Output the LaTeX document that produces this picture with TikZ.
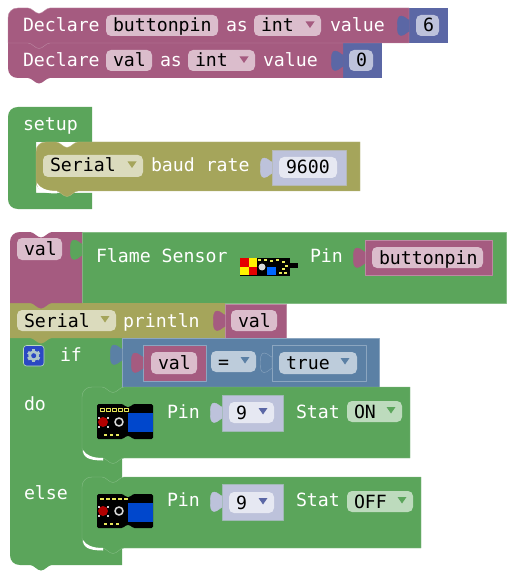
\documentclass[tikz,border=0pt]{standalone}
\usepackage{fontspec}
\setmainfont{DejaVu Sans Mono}
\definecolor{pur}{HTML}{A55B80}
\definecolor{purL}{HTML}{DBBDCC}
\definecolor{purE}{HTML}{BD8AA3}
\definecolor{ind}{HTML}{5B67A5}
\definecolor{indL}{HTML}{BDC2DB}
\definecolor{indF}{HTML}{E6E8F2}
\definecolor{grn}{HTML}{5BA55B}
\definecolor{grnL}{HTML}{BDDBBD}
\definecolor{grnE}{HTML}{85BC85}
\definecolor{oli}{HTML}{A5A55B}
\definecolor{oliL}{HTML}{DBDBBD}
\definecolor{stl}{HTML}{5B80A5}
\definecolor{stlL}{HTML}{BDCCDB}
\definecolor{stlE}{HTML}{8CA6C0}
\definecolor{gearb}{HTML}{2B48C4}
\definecolor{ylw}{HTML}{E8E85A}
\newcommand\ntop[2]{-- ({#1+20},#2) .. controls ({#1+24},#2) and ({#1+27},{#2+5.5}) .. ({#1+31},{#2+5.5}) .. controls ({#1+35},{#2+5.5}) and ({#1+38},#2) .. ({#1+42},#2)}
\newcommand\nbot[2]{-- ({#1+42},#2) .. controls ({#1+38},#2) and ({#1+35},{#2+5.5}) .. ({#1+31},{#2+5.5}) .. controls ({#1+27},{#2+5.5}) and ({#1+24},#2) .. ({#1+20},#2)}
% tab: right edge x, top y, fill, draw
\newcommand\ptab[4]{\path[fill=#3,draw=#4,line width=.4] (#1,{#2+4}) .. controls ({#1-2},{#2+4}) and ({#1-4},{#2}) .. ({#1-8},{#2}) .. controls ({#1-11},{#2}) and ({#1-12},{#2+5}) .. ({#1-11.5},{#2+10}) .. controls ({#1-12},{#2+15}) and ({#1-11},{#2+19.5}) .. ({#1-8},{#2+19.5}) .. controls ({#1-4},{#2+19.5}) and ({#1-2},{#2+15.5}) .. (#1,{#2+15.5}) -- cycle;}
% field: name, x1,y1,x2,y2, fill, text
\newcommand\fld[7]{\fill[#6,rounded corners=5] (#2,#3) rectangle (#4,#5);\node[txt,text=black] (#1) at ({#2+7},{#3+17}) {#7};}
\newcommand\tri[3]{\fill[#3] ({#1-4.5},#2) -- ({#1+4.5},#2) -- (#1,{#2+6.5}) -- cycle;}
\newcommand\lbl[4]{\node[txt,text=white] (#1) at (#2,#3) {#4};}
\newcommand\cres[2]{\fill[white] ({#1+1},{#2-9}) .. controls ({#1+1},{#2-2}) and ({#1+6},{#2+1.5}) .. ({#1+21},{#2+1.5}) -- ({#1+21},{#2-1}) .. controls ({#1+10},{#2-1}) and ({#1+4},{#2-4}) .. ({#1+1},{#2-9}) -- cycle;}
\tikzset{txt/.style={inner sep=0pt,outer sep=0pt,anchor=base west,font=\fontsize{18.2}{20}\selectfont}}
\begin{document}
\begin{tikzpicture}[x=1pt,y=-1pt,line join=round]
\useasboundingbox (0,0) rectangle (527,585);
\fill[white] (0,0) rectangle (527,585);
%% declare 2
\fill[ind] (343,43) rectangle (382,78);
\fill[pur] (8,43) -- (343,43) -- (343,78) \nbot{8}{78} -- (18,78) .. controls (12,78) and (8,74) .. (8,68) -- cycle;
\ptab{343}{51}{ind}{ind}
\fld{f4}{106}{50}{152}{71}{purL}{val}
\fld{f5}{188}{50}{255}{71}{purL}{int}
\tri{244}{56.5}{pur}
\lbl{l4}{23}{67}{Declare}\lbl{l5}{160}{67}{as}\lbl{l6}{263}{67}{value}
\fld{f6}{349}{50}{373}{71}{indL}{0}
%% declare 1
\fill[ind] (409,8) rectangle (448,43);
\path[fill=pur,draw=purE,line width=.4] (8,18) .. controls (8,12) and (12,8) .. (18,8) \ntop{8}{8} -- (409,8) -- (409,43) \nbot{8}{43} -- (8,43) -- cycle;
\ptab{409}{16}{ind}{ind}
\fld{f1}{106}{15}{218}{36}{purL}{buttonpin}
\fld{f2}{254}{15}{321}{36}{purL}{int}
\tri{310}{21.5}{pur}
\lbl{l1}{23}{32}{Declare}\lbl{l2}{226}{32}{as}\lbl{l3}{330}{32}{value}
\fld{f3}{416}{15}{439}{36}{indL}{6}
%% setup
\fill[grn] (8,117) .. controls (8,111) and (12,107) .. (18,107) -- (92,107) -- (92,142) -- (36,142) -- (36,193) -- (92,193) -- (92,209) -- (18,209) .. controls (12,209) and (8,205) .. (8,199) -- cycle;
\lbl{l7}{23}{131}{setup}
\path[fill=oli,draw=oli!80!white,line width=.4] (36,152) .. controls (36,146) and (40,142) .. (46,142) \ntop{36}{142} -- (360,142) -- (360,191) \nbot{36}{191} -- (46,191) .. controls (40,191) and (36,187) .. (36,181) -- cycle;
\cres{36}{192}
\path[fill=indL,draw=indL!70!oli,line width=.5] (272,150) rectangle (346,185);
\ptab{272}{158}{indL}{indL}
\fld{f7}{43}{155}{143}{177}{oliL}{Serial}
\tri{132}{161.5}{oli}
\lbl{l8}{151}{172}{baud rate}
\fld{f8}{279}{157}{337}{178}{indF}{9600}
%% flame block
\path[fill=grn,draw=grnE,line width=.4] (82,232) rectangle (506,303);
\fill[pur] (10,242) .. controls (10,236) and (14,232) .. (20,232) \ntop{10}{232} -- (82,232) -- (82,303) -- (10,303) -- cycle;
\ptab{82}{240}{grn}{grn}
\fld{f9}{17}{238}{62}{260}{purL}{val}
\lbl{l9}{96}{262}{Flame Sensor}\lbl{l10}{310}{262}{Pin}
\fill[black] (240,258) rectangle (290,276);
\fill[black] (288,263) rectangle (298,268);
\fill[yellow] (240,258) rectangle (257,275);
\fill[red!90!black] (240,258) rectangle (248.5,266.5);
\fill[red!90!black] (248.5,266.5) rectangle (257,275);
\fill[white!85!black] (262,267) circle (3.5);
\fill[blue!60!cyan] (267,267) rectangle (276,275);
\foreach \a/\b in {258/259,264/259,270/260,276/259,282/261,285/265,282/268,279/272,284/272}{\fill[ylw] (\a,\b) rectangle ++(2.5,1.5);}
\path[fill=pur,draw=purE,line width=.5] (365,240) rectangle (492,275);
\ptab{365}{248}{pur}{pur}
\fld{f10}{372}{247}{483}{268}{purL}{buttonpin}
%% if stem
\fill[grn] (10,338) -- (122,338) -- (122,565) \nbot{10}{565} -- (20,565) .. controls (14,565) and (10,561) .. (10,555) -- cycle;
%% println
\fill[oli] (10,303) -- (225,303) -- (225,338) \nbot{10}{338} -- (10,338) -- cycle;
\path[fill=pur,draw=purE,line width=.4] (225,304) rectangle (286,338);
\fill[pur] (10,303) -- (82,303) \nbot{10}{303} -- cycle;
\ptab{225}{311}{pur}{pur}
\fld{f11}{17}{310}{116}{331}{oliL}{Serial}
\tri{105}{316}{oli}
\lbl{l11}{123}{327}{println}
\fld{f12}{231}{310}{277}{331}{purL}{val}
%% if header
\fill[gearb,rounded corners=3,draw=grnL,line width=.6] (23.5,345.5) rectangle (44,366);
\foreach \a in {30,90,...,330}{\draw[stlL!85!grn,line width=3.2] (33.7,355.7) -- ++(\a:6.6);}
\fill[stlL!85!grn] (33.7,355.7) circle (5.4);
\fill[gearb] (33.7,355.7) circle (2.5);
\lbl{l12}{60}{361}{if}
\path[fill=stl,draw=stlE,line width=.4] (122,338) rectangle (379,387);
\ptab{122}{345}{stl}{stl}
\path[fill=pur,draw=stlE,line width=.6] (143,345) rectangle (206,381);
\ptab{143}{353}{pur}{pur}
\fld{f13}{151}{352}{197}{374}{purL}{val}
\fld{f14}{211}{351}{256}{372}{stlL}{=}
\tri{245}{357}{stl}
\path[fill=stl,draw=stlE,line width=.6] (272,345) rectangle (366,381);
\ptab{272}{353}{stl}{stlE}
\fld{f15}{279}{352}{357}{374}{stlL}{true}
\tri{345}{358}{stl}
%% do
\lbl{l13}{24}{410}{do}
\path[fill=grn,draw=grnE,line width=.4] (82,397) .. controls (82,391) and (86,387) .. (92,387) \ntop{82}{387} -- (410,387) -- (410,458) \nbot{82}{458} -- (92,458) .. controls (86,458) and (82,454) .. (82,448) -- cycle;
\cres{82}{459}
%% do image
\fill[black,rounded corners=1.5] (97,404) -- (123,404) -- (126,407) -- (130,407) -- (133,404) -- (153,404) -- (153,439) -- (133,439) -- (130,436) -- (126,436) -- (123,439) -- (97,439) -- cycle;
\fill[blue!65!cyan!80!black] (128,413) rectangle (153,432);
\fill[red!70!black] (103,422) circle (5);
\foreach \a/\b in {98/417,107/417,98/426,107/426}{\fill[white!80!black] (\a,\b) rectangle ++(1.5,1.5);}
\draw[white!85!black,line width=1.6] (119,422) circle (4);
\foreach \a in {100,106,112,118,124}{\draw[ylw,line width=.7] (\a,408) rectangle ++(4,3);}
\foreach \a in {104,110,116}{\fill[ylw] (\a,434) rectangle ++(3,1.5);}
\lbl{l14}{167}{418}{Pin}
\path[fill=indL,draw=indL!70!grn,line width=.5] (222,395) rectangle (283,431);
\ptab{222}{403}{indL}{indL}
\fld{f16}{229}{402}{274}{423}{indF}{9}
\tri{263}{408}{ind}
\lbl{l15}{296}{418}{Stat}
\fld{f17}{347}{401}{402}{422}{grnL}{ON}
\tri{391}{407}{grn}
%% else
\lbl{l16}{24}{499}{else}
\path[fill=grn,draw=grnE,line width=.4] (82,487) .. controls (82,481) and (86,477) .. (92,477) \ntop{82}{477} -- (421,477) -- (421,548) \nbot{82}{548} -- (92,548) .. controls (86,548) and (82,544) .. (82,538) -- cycle;
\cres{82}{549}
\fill[black,rounded corners=1.5] (97,494) -- (123,494) -- (126,497) -- (130,497) -- (133,494) -- (153,494) -- (153,528) -- (133,528) -- (130,525) -- (126,525) -- (123,528) -- (97,528) -- cycle;
\fill[blue!65!cyan!80!black] (128,503) rectangle (153,522);
\fill[red!70!black] (103,511) circle (5);
\foreach \a/\b in {98/506,107/506,98/515,107/515}{\fill[white!80!black] (\a,\b) rectangle ++(1.5,1.5);}
\draw[white!85!black,line width=1.6] (119,511) circle (4);
\foreach \a in {100,106,112,118,124}{\fill[ylw] (\a,498) rectangle ++(4,1.5);}
\foreach \a in {104,110,116}{\fill[ylw] (\a,523) rectangle ++(3,1.5);}
\lbl{l17}{167}{506}{Pin}
\path[fill=indL,draw=indL!70!grn,line width=.5] (222,484) rectangle (283,520);
\ptab{222}{492}{indL}{indL}
\fld{f18}{229}{492}{274}{513}{indF}{9}
\tri{263}{498}{ind}
\lbl{l18}{296}{506}{Stat}
\fld{f19}{347}{491}{413}{512}{grnL}{OFF}
\tri{402}{497}{grn}
\end{tikzpicture}
\end{document}
